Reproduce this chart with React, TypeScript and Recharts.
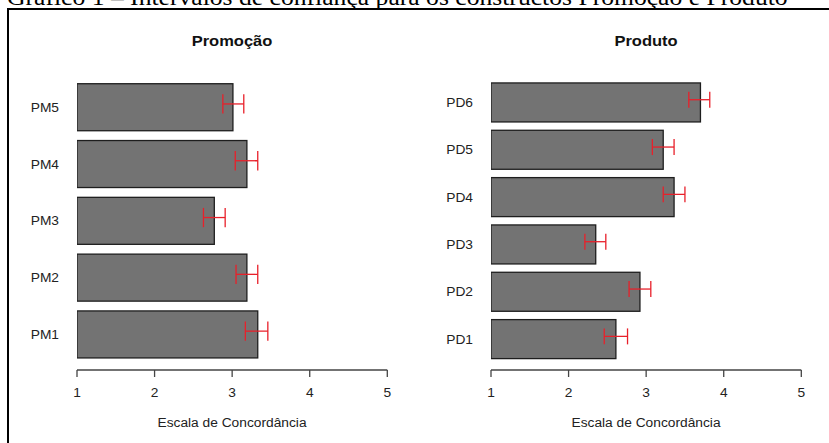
import React from 'react';
import { BarChart, Bar, XAxis, YAxis } from 'recharts';

// scale of the agreement axis
const AXIS_MIN = 1;
const AXIS_MAX = 5;
const TICKS = [1, 2, 3, 4, 5];

// Promoção: means and confidence limits (PM1 at bottom)
const promoItems = ['PM1', 'PM2', 'PM3', 'PM4', 'PM5'];
const promoMeans = [3.33, 3.19, 2.77, 3.19, 3.01];
const promoLow = [3.17, 3.05, 2.63, 3.04, 2.88];
const promoHigh = [3.46, 3.33, 2.91, 3.33, 3.15];

// Produto: means and confidence limits (PD1 at bottom)
const prodItems = ['PD1', 'PD2', 'PD3', 'PD4', 'PD5', 'PD6'];
const prodMeans = [2.61, 2.92, 2.35, 3.36, 3.22, 3.7];
const prodLow = [2.46, 2.78, 2.21, 3.22, 3.08, 3.55];
const prodHigh = [2.76, 3.06, 2.48, 3.5, 3.36, 3.82];

const SANS = '"Liberation Sans", Arial, sans-serif';
const STRETCH = 1.1; // the source image is a little wider than tall

const buildRows = (items: string[], means: number[], low: number[], high: number[]) =>
    items.map((item, i) => ({ item, mean: means[i], low: low[i], high: high[i] }));

// Bar body plus the red confidence interval drawn over it
const BarWithCI = (props: any) => {
    const { x, y, width, height, payload } = props;
    if (!payload || !(width > 0)) return null;

    // pixels per unit taken from the bar itself (it starts at AXIS_MIN)
    const perUnit = width / (payload.mean - AXIS_MIN);
    const xLow = x + (payload.low - AXIS_MIN) * perUnit;
    const xHigh = x + (payload.high - AXIS_MIN) * perUnit;
    const yMid = y + height / 2 - height * 0.07;
    const cap = height * 0.205;
    const red = '#e8202a';

    return (
        <g>
            <rect x={x} y={y} width={width} height={height} fill="#737373" stroke="#1e1e1e" strokeWidth={1.3} />
            <line x1={xLow} y1={yMid} x2={xHigh} y2={yMid} stroke={red} strokeWidth={1.3} />
            <line x1={xLow} y1={yMid - cap} x2={xLow} y2={yMid + cap} stroke={red} strokeWidth={1.3} />
            <line x1={xHigh} y1={yMid - cap} x2={xHigh} y2={yMid + cap} stroke={red} strokeWidth={1.3} />
        </g>
    );
};

// tick text, stretched horizontally like the source
const StretchTick = (props: any) => {
    const { x, y, payload, textAnchor, verticalAnchor } = props;
    const dy = verticalAnchor === 'start' ? '0.71em' : '0.355em';
    return (
        <g transform={`translate(${x},${y}) scale(${STRETCH},1)`}>
            <text x={0} y={0} dy={dy} textAnchor={textAnchor} fontSize={12.5} fontFamily={SANS} fill="#222">
                {payload.value}
            </text>
        </g>
    );
};

const CHART_W = 415;
const CHART_H = 443;
const PLOT_LEFT = 77;
const PLOT_RIGHT = 387.3;

function Panel({ rows, title, left }: { rows: any[]; title: string; left: number }) {
    const plotCenter = (PLOT_LEFT + PLOT_RIGHT) / 2;
    return (
        <div style={{ position: 'absolute', left, top: 0, width: CHART_W, height: CHART_H }}>
            <div
                style={{
                    position: 'absolute',
                    left: plotCenter - 100,
                    width: 200,
                    top: 31.5,
                    lineHeight: '18px',
                    textAlign: 'center',
                    fontFamily: SANS,
                    fontWeight: 'bold',
                    fontSize: 15,
                    color: '#111',
                    transform: `scaleX(${STRETCH})`,
                }}
            >
                {title}
            </div>
            <BarChart
                width={CHART_W}
                height={CHART_H}
                data={rows}
                layout="vertical"
                margin={{ top: 79, right: CHART_W - PLOT_RIGHT, bottom: 43, left: PLOT_LEFT - 60 }}
                barCategoryGap="8.33%"
            >
                <XAxis
                    type="number"
                    dataKey="mean"
                    domain={[AXIS_MIN, AXIS_MAX]}
                    ticks={TICKS}
                    allowDataOverflow
                    height={30}
                    tickSize={7}
                    tickMargin={11}
                    axisLine={{ stroke: '#444', strokeWidth: 1.3 }}
                    tickLine={{ stroke: '#444', strokeWidth: 1.3 }}
                    tick={<StretchTick />}
                />
                <YAxis
                    type="category"
                    dataKey="item"
                    reversed
                    width={60}
                    axisLine={false}
                    tickLine={false}
                    tickSize={0}
                    tickMargin={18}
                    padding={{ top: 0, bottom: 7 }}
                    tick={<StretchTick />}
                />
                <Bar dataKey="mean" shape={<BarWithCI />} isAnimationActive={false} />
            </BarChart>
            <div
                style={{
                    position: 'absolute',
                    left: plotCenter - 120,
                    width: 240,
                    top: 415.5,
                    lineHeight: '15px',
                    textAlign: 'center',
                    fontFamily: SANS,
                    fontSize: 12.5,
                    color: '#222',
                    transform: `scaleX(${STRETCH})`,
                }}
            >
                Escala de Concordância
            </div>
        </div>
    );
}

export default function App() {
    const promoRows = buildRows(promoItems, promoMeans, promoLow, promoHigh);
    const prodRows = buildRows(prodItems, prodMeans, prodLow, prodHigh);

    return (
        <div
            style={{
                position: 'absolute',
                left: 0,
                top: 0,
                width: 829,
                height: 443,
                overflow: 'hidden',
                background: '#fff',
            }}
        >
            {/* caption of the figure, cut off by the top edge as in the source */}
            <div
                style={{
                    position: 'absolute',
                    left: 7,
                    top: -16.9,
                    lineHeight: '28px',
                    whiteSpace: 'nowrap',
                    fontFamily: '"Liberation Serif", "Times New Roman", serif',
                    fontSize: 23.3,
                    color: '#000',
                    transform: `scaleX(${STRETCH})`,
                    transformOrigin: 'left top',
                }}
            >
                Gráfico 1 – Intervalos de confiança para os constructos Promoção e Produto
            </div>
            {/* frame: top and left edges */}
            <div
                style={{
                    position: 'absolute',
                    left: 7,
                    top: 8,
                    right: -10,
                    bottom: -10,
                    borderTop: '2px solid #000',
                    borderLeft: '2px solid #000',
                }}
            />
            <Panel rows={promoRows} title="Promoção" left={0} />
            <Panel rows={prodRows} title="Produto" left={414} />
        </div>
    );
}
